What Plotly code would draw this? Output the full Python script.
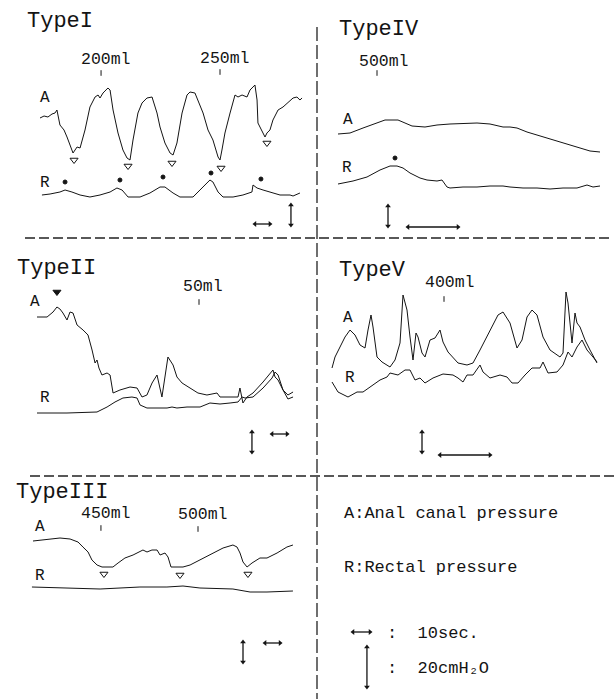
import plotly.graph_objects as go

W, H = 615, 699
FONT = "Liberation Mono, Courier New, monospace"
INK = "#141414"

# ======================= DATA (time in s, pressure in cmH2O) =======================
# ---- Type I ----
typeI_A_t = [0, 2.7, 5.3, 8, 10, 11.3, 13.3, 16, 18, 21.3, 22, 24.7, 26.7, 30, 33.3, 36.7, 38.7, 40,
             42, 45.3, 46.7, 48.7, 52, 55.3, 58, 60, 62, 65.3, 68, 71.3, 74.7, 75.3, 78, 80, 83.3,
             86.7, 88.7, 91.3, 94.7, 98, 100, 103.3, 105.3, 108.7, 112, 115.3, 118.7, 120, 121.3,
             123.3, 126.7, 130, 132, 134.7, 138, 140, 143.3, 144.7, 145.3, 148, 150, 151.3, 153.3,
             155.3, 158.7, 162, 165.3, 168.7, 171.3, 173.3, 174.7]
typeI_A_p = [82, 84, 83, 86, 87, 90, 75, 70, 63, 48, 47, 53, 52, 70, 93, 103, 105, 102,
             107, 112, 110, 90, 67, 50, 42, 40, 60, 87, 97, 102, 103, 100, 87, 73, 57,
             47, 45, 57, 87, 105, 108, 107, 100, 87, 70, 60, 43, 40, 50,
             67, 87, 105, 103, 105, 103, 110, 115, 100, 77, 68, 63, 67, 70,
             80, 90, 93, 97, 102, 103, 100, 102]
typeI_R_t = [1.3, 6.7, 13.3, 16.7, 21.3, 26.7, 33.3, 40, 46.7, 51.3, 54.7, 58.7, 66.7, 73.3, 80,
             83.3, 88.7, 93.3, 102, 106.7, 110, 113.3, 115.3, 118.7, 122, 128.7, 135.3, 141.3, 142,
             144.7, 148.7, 153.3, 160, 166.7, 168.7, 173.3]
typeI_R_p = [5, 6, 8, 10, 8, 5, 3, 5, 8, 12, 10, 3, 3, 7, 13,
             13, 7, 3, 3, 10, 15, 20, 18, 8, 3, 3, 5, 8, 15,
             12, 10, 8, 5, 5, 4, 7]
typeI_relax_t = [22.7, 58.7, 88, 120.7, 151.3]
typeI_relax_p = [40, 34, 37, 32, 57]
typeI_contr_t = [16.7, 53.3, 82, 114, 147.3]
typeI_contr_p = [18, 20, 23, 27, 21]
typeI_vol_t = [40.7, 120]
typeI_vol_p = [127, 128]
typeI_vol_lbl = ["200ml", "250ml"]

# ---- Type II ----
typeII_A_t = [0, 6.7, 10.7, 13.3, 15.3, 17.3, 20, 22, 24, 26.7, 30.7, 34, 36.7, 38.7, 40, 41.3,
              43.3, 46.7, 48.7, 50.7, 55.3, 62, 66.7, 70, 73.3, 76.7, 80, 83.3, 85.3, 87.3, 90.7,
              93.3, 96.7, 102, 107.3, 113.3, 120, 122, 128.7, 134, 135.3, 137.3, 140, 144, 150.7,
              155.3, 157.3, 158.7, 160.7, 164, 167.3, 170.7]
typeII_A_p = [103, 103, 108, 113, 111, 107, 100, 108, 107, 95, 90, 85, 70, 57, 60, 52,
              45, 47, 45, 27, 30, 33, 32, 23, 25, 37, 45, 23, 43, 63, 55,
              43, 37, 32, 27, 25, 27, 23, 23, 23, 32, 17, 23, 27, 38,
              47, 50, 43, 40, 30, 25, 28]
typeII_R_t = [0, 20, 40, 46.7, 52, 57.3, 63.3, 66.7, 68.7, 73.3, 82, 86.7, 90, 93.3, 100, 108.7,
              115.3, 122, 128.7, 134, 136.7, 138.7, 144, 150.7, 156.7, 158.7, 160.7, 164, 167.3, 170.7]
typeII_R_p = [7, 7, 8, 13, 18, 22, 23, 22, 15, 12, 12, 12, 13, 12, 13, 13,
              17, 16, 17, 18, 23, 22, 23, 32, 42, 48, 45, 30, 21, 23]
typeII_mark_t = [13.3]
typeII_mark_p = [128]
typeII_vol_t = [108]
typeII_vol_p = [118]
typeII_vol_lbl = ["50ml"]

# ---- Type III ----
typeIII_A_t = [0, 6.7, 13.3, 18, 24.7, 30, 33.3, 36.7, 39.3, 42.7, 46, 53.3, 56.7, 61.3, 66.7, 73.3,
               76, 79.3, 82.7, 84.7, 88, 90, 92, 100, 104.7, 111.3, 120, 126.7, 133.3, 136, 138,
               140, 142.7, 146, 151.3, 156, 162.7, 169.3, 173.3]
typeIII_A_p = [79, 80, 81, 82, 81, 78, 73, 68, 60, 55, 53, 53, 57, 62, 65, 70,
               68, 70, 70, 65, 67, 63, 53, 53, 55, 60, 67, 72, 75, 73, 67,
               58, 53, 57, 62, 62, 67, 73, 75]
typeIII_R_t = [-0.7, 22.7, 44.7, 71.3, 89.3, 100, 111.3, 133.3, 144.7, 156, 173.3]
typeIII_R_p = [33, 32, 31, 33, 33, 34, 32, 31, 28, 28, 29]
typeIII_relax_t = [47.3, 98, 143.3]
typeIII_relax_p = [46, 45, 46]
typeIII_vol_t = [45.3, 110]
typeIII_vol_p = [92, 91]
typeIII_vol_lbl = ["450ml", "500ml"]

# ---- Type IV ----
typeIV_A_t = [0, 2.4, 5, 7.8, 9.4, 12, 13.4, 14.8, 17.4, 19.8, 22.4, 25.8, 27.8, 30.4, 33, 34.4,
              35.8, 37.8, 40.4, 43, 45, 47.8, 50.4, 52.4]
typeIV_A_p = [66, 67, 72, 77, 80, 80, 77, 74, 73, 75, 76, 77, 77, 76, 73, 73,
              72, 68, 64, 60, 57, 53, 49, 48]
typeIV_R_t = [0, 3, 5.8, 8.4, 10.4, 11.8, 13, 14.4, 16.4, 17.8, 19.8, 20.8, 21.8, 22.4, 25, 27.8,
              30.4, 33, 34.4, 37, 39.8, 42.4, 45, 47.8, 49.8, 51, 52.4]
typeIV_R_p = [16, 19, 23, 30, 34, 34, 32, 27, 22, 20, 19, 20, 13, 12, 13, 13,
              14, 14, 13, 12, 12, 11, 12, 12, 15, 13, 14]
typeIV_contr_t = [11.4]
typeIV_contr_p = [42]
typeIV_vol_t = [7.8]
typeIV_vol_p = [127]
typeIV_vol_lbl = ["500ml"]

# ---- Type V ----
typeV_A_t = [0, 0.6, 1.6, 2.6, 3.6, 4.6, 5.6, 6.6, 7.2, 7.8, 8.2, 9, 10, 11.6, 12.6, 13.6, 14.2,
             15, 15.6, 16.2, 16.8, 17.2, 18, 18.6, 19.6, 20.6, 21.6, 22.2, 23.2, 24.2, 25.2, 27,
             28.2, 29.6, 31.6, 33.2, 34.2, 35.6, 37, 38, 39, 40, 41, 42.2, 43.6, 45.6, 46.2, 46.8,
             47.2, 48, 48.6, 49, 49.6, 50.6, 51.6, 53]
typeV_A_p = [52, 63, 73, 83, 90, 85, 75, 72, 90, 105, 93, 63, 58, 53, 60, 77, 125,
             110, 83, 60, 87, 83, 67, 63, 80, 82, 90, 78, 68, 63, 57, 55,
             57, 70, 90, 105, 108, 97, 72, 80, 103, 110, 105, 83, 70, 63, 67, 128,
             117, 77, 107, 97, 93, 80, 70, 57]
typeV_R_t = [0, 1.2, 3.2, 5, 6.2, 8.2, 9.6, 11, 11.6, 13.2, 14.6, 15.6, 16.6, 17.6, 18.6, 20.2,
             22.2, 24.2, 25.2, 26.2, 27, 28.2, 29.6, 30.2, 31.6, 33.6, 35, 36, 37.2, 38.6, 40,
             41.6, 42.2, 43.2, 45, 46.2, 47.2, 48, 49, 50, 51, 52.2, 53]
typeV_R_p = [38, 28, 23, 28, 28, 35, 40, 43, 47, 45, 50, 50, 40, 42, 37, 42,
             46, 45, 42, 38, 45, 45, 55, 48, 42, 45, 43, 37, 37, 45, 52,
             52, 58, 47, 48, 55, 68, 63, 73, 80, 70, 63, 58]
typeV_vol_t = [22.4]
typeV_vol_p = [121]
typeV_vol_lbl = ["400ml"]

# key texts
key_lines = ["A:Anal canal pressure", "R:Rectal pressure"]
key_scale = [":  10sec.", ":  20cmH₂O"]

# scale bars (data units)
BAR_T = 10    # sec
BAR_P = 20    # cmH2O

# ======================= LAYOUT =======================
# box = (left, top, right, bottom) px; x0/y0 = px of t=0/p=0; sx = px per s; sy = px per cmH2O
panels = {
    "I":   dict(box=(25, 0, 317, 238),    x0=40,  y0=200, sx=1.5, sy=1.0),
    "IV":  dict(box=(317, 0, 615, 238),   x0=338, y0=200, sx=5.0, sy=1.0),
    "II":  dict(box=(0, 238, 317, 476),   x0=37,  y0=420, sx=1.5, sy=1.0),
    "V":   dict(box=(317, 238, 615, 476), x0=332, y0=420, sx=5.0, sy=1.0),
    "III": dict(box=(0, 476, 317, 699),   x0=33,  y0=620, sx=1.5, sy=1.0),
    "KEY": dict(box=(317, 476, 615, 699), x0=353, y0=700, sx=1.7, sy=2.0),
}

fig = go.Figure()
lay = {}
ax = {}
for n, (key, cfg) in enumerate(panels.items(), start=1):
    l, t, r, b = cfg["box"]
    s = "" if n == 1 else str(n)
    lay["xaxis" + s] = dict(domain=[l / W, r / W],
                            range=[(l - cfg["x0"]) / cfg["sx"], (r - cfg["x0"]) / cfg["sx"]],
                            visible=False, anchor="y" + s, fixedrange=True)
    lay["yaxis" + s] = dict(domain=[1 - b / H, 1 - t / H],
                            range=[(cfg["y0"] - b) / cfg["sy"], (cfg["y0"] - t) / cfg["sy"]],
                            visible=False, anchor="x" + s, fixedrange=True)
    ax[key] = ("x" + s, "y" + s)

annotations = []
shapes = []


def line(key, tt, pp, w=1.0):
    xa, ya = ax[key]
    fig.add_trace(go.Scatter(x=tt, y=pp, mode="lines", xaxis=xa, yaxis=ya,
                             line=dict(color=INK, width=w), showlegend=False, hoverinfo="skip"))


def marks(key, tt, pp, symbol, size):
    xa, ya = ax[key]
    fig.add_trace(go.Scatter(x=tt, y=pp, mode="markers", xaxis=xa, yaxis=ya,
                             marker=dict(symbol=symbol, size=size, color=INK,
                                         line=dict(color=INK, width=1)),
                             showlegend=False, hoverinfo="skip"))


def vols(key, tt, pp, labels, dx=5, dy=15):
    marks(key, tt, pp, "line-ns", 4)
    xa, ya = ax[key]
    for ti, pi, lb in zip(tt, pp, labels):
        annotations.append(dict(x=ti, y=pi, xref=xa, yref=ya, text=lb, showarrow=False,
                                xshift=dx, yshift=dy, font=dict(family=FONT, size=16.5, color=INK)))


def label(key, tt, pp, txt, size=16, anchor="center"):
    xa, ya = ax[key]
    annotations.append(dict(x=tt, y=pp, xref=xa, yref=ya, text=txt, showarrow=False,
                            xanchor=anchor, font=dict(family=FONT, size=size, color=INK)))


def hbar(key, t0, p0, head=5):
    xa, ya = ax[key]
    fig.add_trace(go.Scatter(x=[t0, t0 + BAR_T], y=[p0, p0], mode="lines+markers",
                             xaxis=xa, yaxis=ya, line=dict(color=INK, width=1.3),
                             marker=dict(symbol=["triangle-left", "triangle-right"], size=head,
                                         color=INK),
                             showlegend=False, hoverinfo="skip"))


def vbar(key, t0, p0, head=5):
    xa, ya = ax[key]
    fig.add_trace(go.Scatter(x=[t0, t0], y=[p0, p0 - BAR_P], mode="lines+markers",
                             xaxis=xa, yaxis=ya, line=dict(color=INK, width=1.3),
                             marker=dict(symbol=["triangle-up", "triangle-down"], size=head,
                                         color=INK),
                             showlegend=False, hoverinfo="skip"))


def title(txt, xpx, ypx):
    annotations.append(dict(x=xpx / W, y=1 - ypx / H, xref="paper", yref="paper", text=txt,
                            showarrow=False, xanchor="left", yanchor="middle",
                            font=dict(family=FONT, size=22, color=INK)))


# ---- Type I ----
line("I", typeI_A_t, typeI_A_p)
line("I", typeI_R_t, typeI_R_p)
marks("I", typeI_relax_t, typeI_relax_p, "triangle-down-open", 7)
marks("I", typeI_contr_t, typeI_contr_p, "circle", 4)
vols("I", typeI_vol_t, typeI_vol_p, typeI_vol_lbl, dx=5, dy=14)
label("I", 3.3, 102, "A")
label("I", 3.3, 17, "R")
hbar("I", 143.3, -24)
vbar("I", 167.3, -5)
title("TypeI", 25, 21)

# ---- Type IV ----
line("IV", typeIV_A_t, typeIV_A_p)
line("IV", typeIV_R_t, typeIV_R_p)
marks("IV", typeIV_contr_t, typeIV_contr_p, "circle", 4)
vols("IV", typeIV_vol_t, typeIV_vol_p, typeIV_vol_lbl, dx=7, dy=12)
label("IV", 2, 80, "A")
label("IV", 1.8, 32, "R")
hbar("IV", 14, -27)
vbar("IV", 10, -6)
title("TypeIV", 337, 30)

# ---- Type II ----
line("II", typeII_A_t, typeII_A_p)
line("II", typeII_R_t, typeII_R_p)
marks("II", typeII_mark_t, typeII_mark_p, "triangle-down", 7)
vols("II", typeII_vol_t, typeII_vol_p, typeII_vol_lbl, dx=4, dy=15)
label("II", -1.3, 118, "A")
label("II", 5.3, 22, "R")
hbar("II", 156.7, -14)
vbar("II", 143.3, -12)
title("TypeII", 15, 268)

# ---- Type V ----
line("V", typeV_A_t, typeV_A_p)
line("V", typeV_R_t, typeV_R_p)
vols("V", typeV_vol_t, typeV_vol_p, typeV_vol_lbl, dx=6, dy=16)
label("V", 3.2, 102, "A")
label("V", 3.6, 42, "R")
hbar("V", 21.6, -35)
vbar("V", 18, -12)
title("TypeV", 337, 270)

# ---- Type III ----
line("III", typeIII_A_t, typeIII_A_p)
line("III", typeIII_R_t, typeIII_R_p)
marks("III", typeIII_relax_t, typeIII_relax_p, "triangle-down-open", 7)
vols("III", typeIII_vol_t, typeIII_vol_p, typeIII_vol_lbl, dx=5, dy=15)
label("III", 4.7, 93, "A")
label("III", 4.7, 44, "R")
hbar("III", 154.7, -23)
vbar("III", 140, -22)
title("TypeIII", 14, 492)

# ---- key panel ----
label("KEY", -6.5, 93.5, key_lines[0], size=17, anchor="left")
label("KEY", -6.5, 66.5, key_lines[1], size=17, anchor="left")
label("KEY", 18.8, 33.5, key_scale[0], size=17, anchor="left")
label("KEY", 18.8, 16, key_scale[1], size=17, anchor="left")
hbar("KEY", 0, 34, head=5)
vbar("KEY", 8.2, 26.5, head=5)

# ---- dashed dividers ----
dash_style = dict(color="#222", width=1.3, dash="10px,4px")
shapes.append(dict(type="line", xref="paper", yref="paper", x0=317 / W, x1=317 / W,
                   y0=1 - 27 / H, y1=0, line=dict(color="#222", width=1.3, dash="14px,4px")))
shapes.append(dict(type="line", xref="paper", yref="paper", x0=25 / W, x1=612 / W,
                   y0=1 - 238 / H, y1=1 - 238 / H, line=dash_style))
shapes.append(dict(type="line", xref="paper", yref="paper", x0=30 / W, x1=615 / W,
                   y0=1 - 476 / H, y1=1 - 476 / H, line=dash_style))

fig.update_layout(width=W, height=H, margin=dict(l=0, r=0, t=0, b=0),
                  paper_bgcolor="white", plot_bgcolor="white",
                  annotations=annotations, shapes=shapes, showlegend=False, **lay)

fig.write_html("out.html", config={"displayModeBar": False})
